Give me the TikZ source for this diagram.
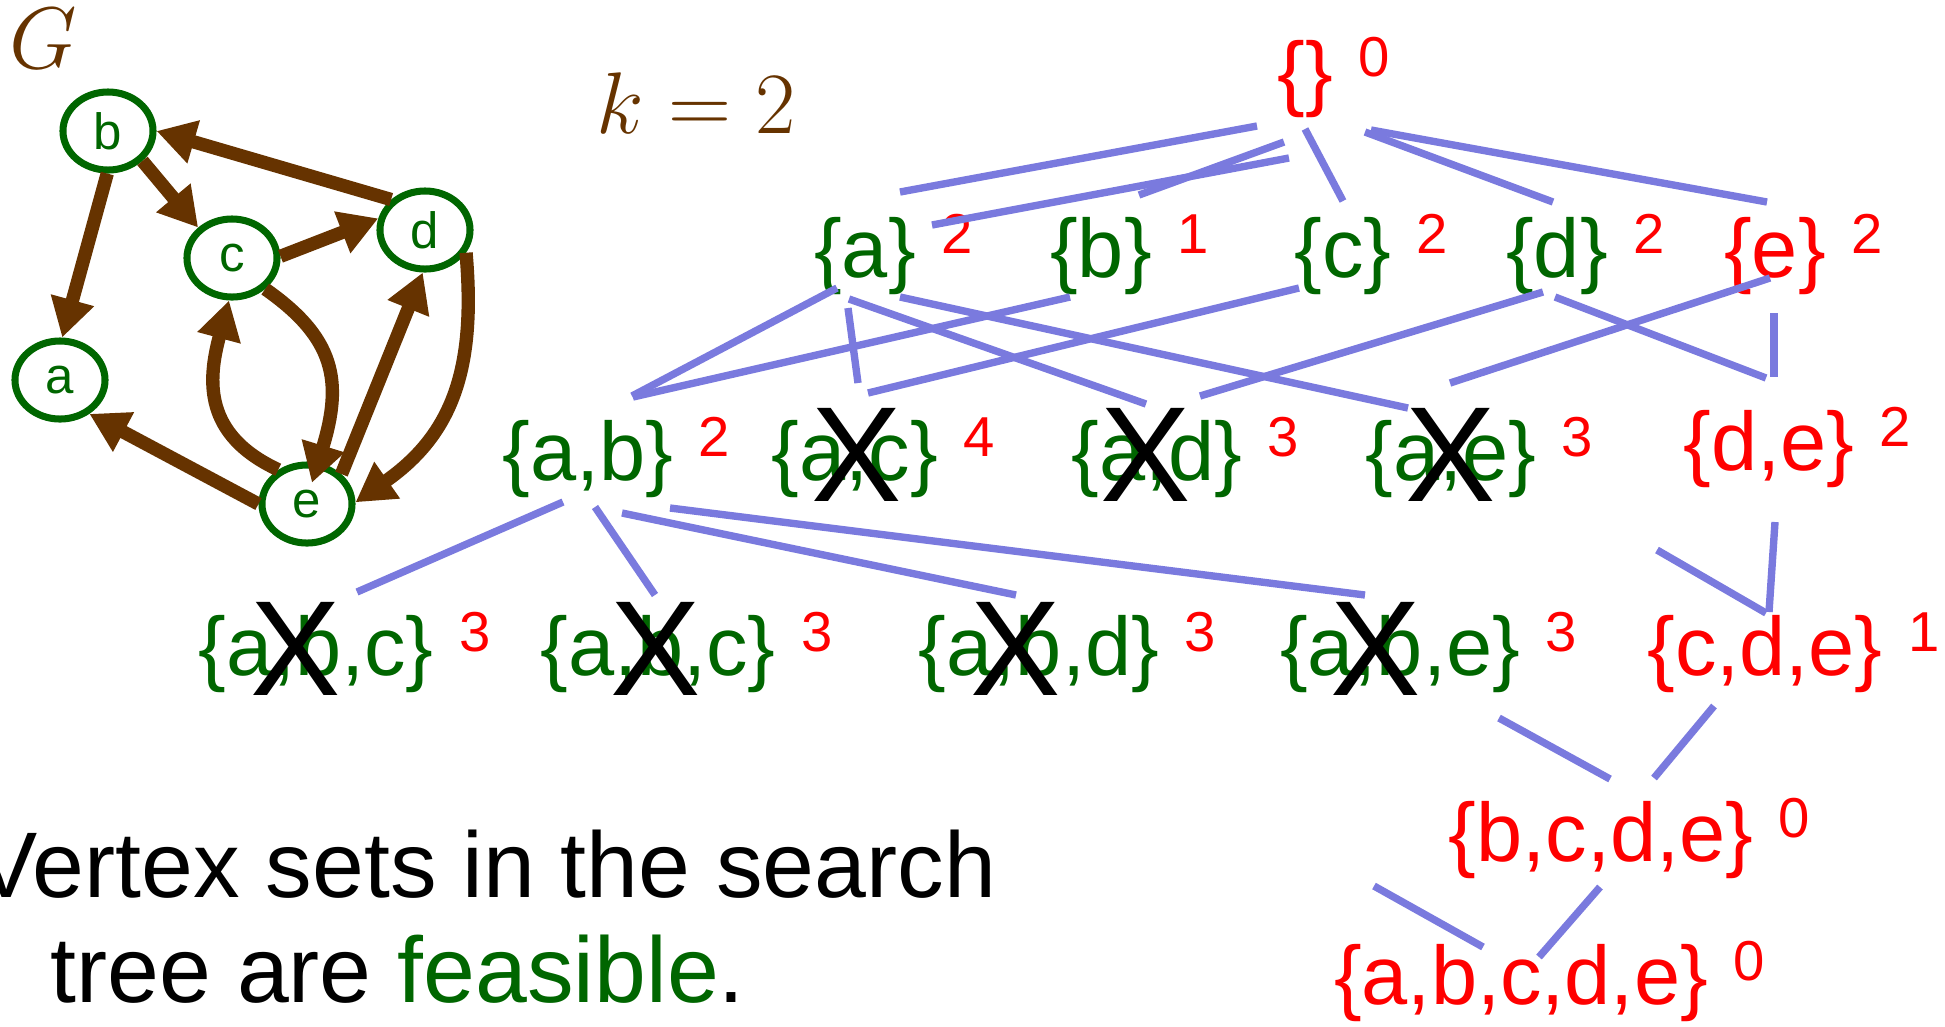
\documentclass[tikz,border=0pt]{standalone}
\usepackage{fontspec}
\setmainfont{Liberation Sans}
\usetikzlibrary{arrows.meta,shapes.geometric}
\definecolor{edgebrown}{RGB}{102,51,0}
\definecolor{setgreen}{RGB}{0,102,0}
\definecolor{treeblue}{RGB}{122,122,222}
\newcommand{\vset}[5]{\node[vset,text=#4] (#1) at (#2) {\{#3\}};
  \node[vcount] (#1n) at ([shift={(24,22)}]#1.east) {#5};}
\newcommand{\tedge}[4]{\draw[tline] ([shift={(#2)}]#1.center) -- ([shift={(#4)}]#3.center);}
\newcommand{\crossout}[3]{\node[crossmark] (#1) at ([shift={(#3)}]#2.center) {X};}

\begin{document}
\begin{tikzpicture}[x=0.01cm,y=0.01cm,
  vtx/.style={ellipse,draw=setgreen,line width=2pt,text=setgreen,minimum width=0.9cm,minimum height=0.78cm,inner sep=0pt,font=\fontsize{14.5}{15}\selectfont},
  garc/.style={draw=edgebrown,line width=3.8pt,-{Triangle[length=11pt,width=12pt]}},
  vset/.style={inner sep=0pt,font=\fontsize{23.6}{28}\selectfont},
  vcount/.style={anchor=west,inner sep=0pt,text=red,font=\fontsize{16}{18}\selectfont},
  tline/.style={draw=treeblue,line width=2.1pt},
  crossmark/.style={inner sep=0pt,font=\fontsize{38.5}{40}\selectfont},
  note/.style={anchor=base west,inner sep=0pt,font=\fontsize{26.5}{30}\selectfont}]
\useasboundingbox (0,0) rectangle (1945,-1026);

% the graph G
\node[text=edgebrown,anchor=base,inner sep=0pt,font=\fontsize{24}{24}\selectfont] (gname) at (43,-68) {$G$};
\node[vtx] (vb) at (108,-131) {b};
\node[vtx] (vc) at (232,-258) {c};
\node[vtx] (vd) at (425,-230) {d};
\node[vtx] (va) at (60,-380) {a};
\node[vtx] (ve) at (307,-504) {e};
\draw[garc] (vd.138) -- (vb.east);
\draw[garc] (vb.-41) -- (vc.138);
\draw[garc] (vb.-91) -- (va.87);
\draw[garc] (vc.2) -- (vd.166);
\draw[garc,shorten >=-6pt] (vc.-43) to[out=-35,in=73,looseness=1.2] (ve.75);
\draw[garc] (ve.130) to[out=155,in=-105,looseness=1.2] (vc.-94);
\draw[garc] (ve.west) -- (va.-49);
\draw[garc] (ve.41) -- (vd.-93);
\draw[garc] (vd.-29) to[out=-85,in=35,looseness=1.1] (ve.2);

\node[text=edgebrown,anchor=base,inner sep=0pt,font=\fontsize{24}{24}\selectfont] (kval) at (696,-133) {$k = 2$};

% search tree
\vset{s0}{1305,-79}{}{red}{0}
\vset{sa}{865,-256}{a}{setgreen}{2}
\vset{sb}{1101,-256}{b}{setgreen}{1}
\vset{sc}{1343,-256}{c}{setgreen}{2}
\vset{sd}{1557,-256}{d}{setgreen}{2}
\vset{se}{1775,-256}{e}{red}{2}
\vset{sab}{588,-459}{a,b}{setgreen}{2}
\vset{sac}{855,-459}{a,c}{setgreen}{4}
\vset{sad}{1157,-459}{a,d}{setgreen}{3}
\vset{sae}{1451,-459}{a,e}{setgreen}{3}
\vset{sde}{1769,-449}{d,e}{red}{2}
\vset{sabc}{316,-654}{a,b,c}{setgreen}{3}
\vset{sabcb}{658,-654}{a,b,c}{setgreen}{3}
\vset{sabd}{1039,-654}{a,b,d}{setgreen}{3}
\vset{sabe}{1400,-654}{a,b,e}{setgreen}{3}
\vset{scde}{1765,-654}{c,d,e}{red}{1}
\vset{sbcde}{1601,-840}{b,c,d,e}{red}{0}
\vset{sabcde}{1521,-983}{a,b,c,d,e}{red}{0}

\tedge{s0}{-48,-47}{sa}{35,64}
\tedge{s0}{-16,-79}{sa}{67,31}
\tedge{s0}{-21,-63}{sb}{38,61}
\tedge{s0}{0,-50}{sc}{0,55}
\tedge{s0}{60,-53}{sd}{-4,54}
\tedge{s0}{66,-51}{se}{-8,54}
\tedge{sa}{-28,-32}{sab}{44,63}
\tedge{sb}{-31,-41}{sab}{45,62}
\tedge{sa}{-17,-52}{sac}{3,76}
\tedge{sc}{-44,-32}{sac}{13,66}
\tedge{sa}{-16,-43}{sad}{-11,55}
\tedge{sd}{-14,-36}{sad}{43,63}
\tedge{sa}{35,-41}{sae}{-43,51}
\tedge{se}{-5,-22}{sae}{-1,76}
\tedge{sd}{-2,-41}{sde}{-3,71}
\tedge{se}{-1,-57}{sde}{5,72}
\tedge{sab}{-25,-43}{sabc}{41,62}
\tedge{sab}{7,-48}{sabcb}{-3,59}
\tedge{sab}{34,-54}{sabd}{-23,59}
\tedge{sab}{82,-49}{sabe}{-35,59}
\tedge{sde}{6,-73}{scde}{4,42}
\tedge{scde}{-108,104}{scde}{1,41}
\tedge{scde}{-51,-52}{sbcde}{53,62}
\tedge{sbcde}{-102,122}{sbcde}{9,61}
\tedge{sbcde}{-1,-47}{sabcde}{18,26}
\tedge{sabcde}{-147,97}{sabcde}{-38,36}

\crossout{xac}{sac}{2,4}
\crossout{xad}{sad}{-11,4}
\crossout{xae}{sae}{0,4}
\crossout{xabc}{sabc}{-20,5}
\crossout{xabcb}{sabcb}{-2,5}
\crossout{xabd}{sabd}{-23,5}
\crossout{xabe}{sabe}{-24,5}

\node[note] (note1) at (-25,-897) {Vertex sets in the search};
\node[note] (note2) at (50,-1002) {tree are \textcolor{setgreen}{feasible}.};
\end{tikzpicture}
\end{document}
